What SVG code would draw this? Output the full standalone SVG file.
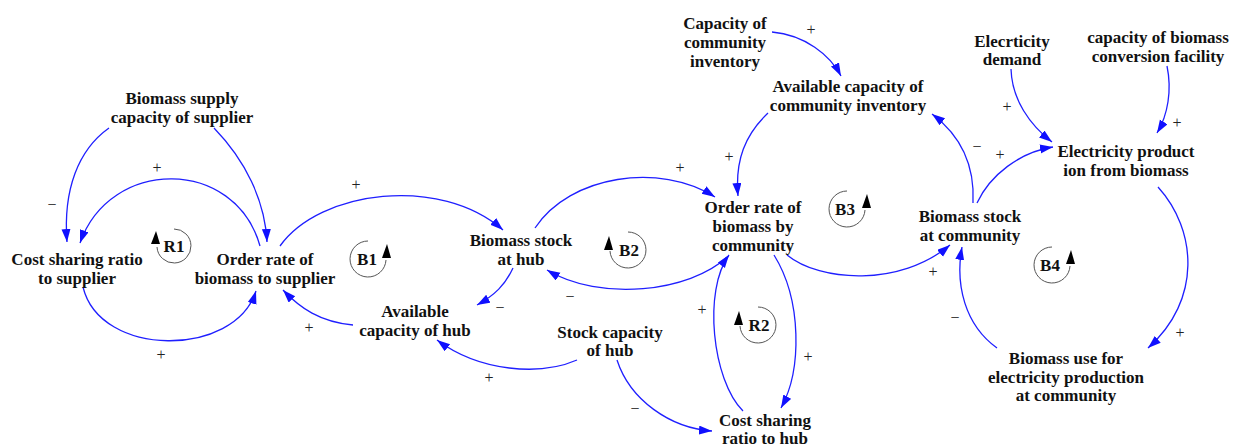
<svg xmlns="http://www.w3.org/2000/svg" width="1240" height="448" viewBox="0 0 1240 448">
<style>
.n{font-family:"Liberation Serif","Times New Roman",serif;font-weight:bold;font-size:17px;fill:#111;text-anchor:middle}
.s{font-family:"Liberation Serif","Times New Roman",serif;font-size:16px;fill:#222;text-anchor:middle}
.e{fill:none;stroke:#1f1fff;stroke-width:1.3;marker-end:url(#ah)}
.lp{fill:none;stroke:#555;stroke-width:1}
.la{fill:#000}
</style>
<defs>
<marker id="ah" markerUnits="userSpaceOnUse" markerWidth="14" markerHeight="10" refX="13" refY="4.5" orient="auto">
<path d="M0,0 L13,4.5 L0,9 z" fill="#1010ff"/>
</marker>
</defs>
<rect width="1240" height="448" fill="#fff"/>
<g id="connectors">
<path class="e" d="M109,128 C78,150 63,190 67,242"/>
<path class="e" d="M214,128 C245,160 265,200 267,242"/>
<path class="e" d="M260,246 C235,157 110,157 80,243"/>
<path class="e" d="M83,287 C100,358 235,358 256,291"/>
<path class="e" d="M280,246 C320,190 440,175 503,230"/>
<path class="e" d="M353,325 C320,322 300,308 283,290"/>
<path class="e" d="M513,268 C505,285 495,295 477,305"/>
<path class="e" d="M535,228 C570,175 660,162 715,197"/>
<path class="e" d="M727,257 C690,292 600,302 547,270"/>
<path class="e" d="M577,360 C540,376 480,372 437,340"/>
<path class="e" d="M617,360 C630,400 670,428 712,431"/>
<path class="e" d="M743,411 C712,380 703,290 729,255"/>
<path class="e" d="M774,255 C802,300 802,370 781,408"/>
<path class="e" d="M787,255 C820,282 900,287 950,245"/>
<path class="e" d="M768,113 C745,135 735,160 738,196"/>
<path class="e" d="M772,32 C805,35 830,55 841,76"/>
<path class="e" d="M973,203 C975,165 960,135 932,114"/>
<path class="e" d="M977,203 C990,175 1020,152 1053,147"/>
<path class="e" d="M1011,69 C1012,100 1030,125 1052,142"/>
<path class="e" d="M1167,66 C1172,90 1168,115 1157,133"/>
<path class="e" d="M1158,187 C1197,230 1202,300 1148,348"/>
<path class="e" d="M997,348 C965,325 955,285 962,247"/>
</g>
<g id="signs">
<text class="s" x="52" y="210">−</text>
<text class="s" x="157" y="173">+</text>
<text class="s" x="161" y="360">+</text>
<text class="s" x="356" y="190">+</text>
<text class="s" x="309" y="333">+</text>
<text class="s" x="500" y="313">−</text>
<text class="s" x="680" y="173">+</text>
<text class="s" x="570" y="302">−</text>
<text class="s" x="489" y="383">+</text>
<text class="s" x="635" y="414">−</text>
<text class="s" x="702" y="315">+</text>
<text class="s" x="808" y="362">+</text>
<text class="s" x="933" y="277">+</text>
<text class="s" x="729" y="162">+</text>
<text class="s" x="811" y="35">+</text>
<text class="s" x="977" y="152">−</text>
<text class="s" x="1000" y="160">+</text>
<text class="s" x="1007" y="112">+</text>
<text class="s" x="1177" y="128">+</text>
<text class="s" x="1180" y="338">+</text>
<text class="s" x="955" y="323">−</text>
</g>
<g id="loop-R1">
<path class="lp" d="M174,229 A17,17 0 1 1 157,247"/>
<polygon class="la" points="156,231 151,244 160,244"/>
<text class="n" x="174" y="252">R1</text>
</g>
<g id="loop-B1">
<path class="lp" d="M368,241 A18,18 0 1 0 386,260"/>
<polygon class="la" points="387,244 382,258 391,258"/>
<text class="n" x="367" y="265">B1</text>
</g>
<g id="loop-B2">
<path class="lp" d="M628,232 A18,18 0 1 1 610,251"/>
<polygon class="la" points="609,236 604,250 613,250"/>
<text class="n" x="629" y="256">B2</text>
</g>
<g id="loop-R2">
<path class="lp" d="M758,307 A18,18 0 1 1 740,326"/>
<polygon class="la" points="739,311 734,325 743,325"/>
<text class="n" x="759" y="331">R2</text>
</g>
<g id="loop-B3">
<path class="lp" d="M847,191 A18,18 0 1 0 865,210"/>
<polygon class="la" points="867,194 862,208 871,208"/>
<text class="n" x="845" y="215">B3</text>
</g>
<g id="loop-B4">
<path class="lp" d="M1052,247 A18,18 0 1 0 1070,266"/>
<polygon class="la" points="1071,250 1066,264 1075,264"/>
<text class="n" x="1050" y="271">B4</text>
</g>
<g id="node-biomass-supply-capacity">
<text class="n" x="182" y="104"><tspan x="182">Biomass supply</tspan><tspan x="182" dy="19">capacity of supplier</tspan></text>
</g>
<g id="node-cost-sharing-supplier">
<text class="n" x="77" y="265"><tspan x="77">Cost sharing ratio</tspan><tspan x="77" dy="19">to supplier</tspan></text>
</g>
<g id="node-order-rate-supplier">
<text class="n" x="265" y="265"><tspan x="265">Order rate of</tspan><tspan x="265" dy="19">biomass to supplier</tspan></text>
</g>
<g id="node-biomass-stock-hub">
<text class="n" x="521" y="246"><tspan x="521">Biomass stock</tspan><tspan x="521" dy="19">at hub</tspan></text>
</g>
<g id="node-available-capacity-hub">
<text class="n" x="415" y="317"><tspan x="415">Available</tspan><tspan x="415" dy="19">capacity of hub</tspan></text>
</g>
<g id="node-stock-capacity-hub">
<text class="n" x="610" y="338"><tspan x="610">Stock capacity</tspan><tspan x="610" dy="18">of hub</tspan></text>
</g>
<g id="node-order-rate-community">
<text class="n" x="753" y="213"><tspan x="753">Order rate of</tspan><tspan x="753" dy="19">biomass by</tspan><tspan x="753" dy="19">community</tspan></text>
</g>
<g id="node-cost-sharing-hub">
<text class="n" x="765" y="426"><tspan x="765">Cost sharing</tspan><tspan x="765" dy="18">ratio to hub</tspan></text>
</g>
<g id="node-capacity-community-inventory">
<text class="n" x="725" y="29"><tspan x="725">Capacity of</tspan><tspan x="725" dy="19">community</tspan><tspan x="725" dy="19">inventory</tspan></text>
</g>
<g id="node-available-capacity-community-inventory">
<text class="n" x="848" y="92"><tspan x="848">Available capacity of</tspan><tspan x="848" dy="19">community inventory</tspan></text>
</g>
<g id="node-biomass-stock-community">
<text class="n" x="970" y="222"><tspan x="970">Biomass stock</tspan><tspan x="970" dy="19">at community</tspan></text>
</g>
<g id="node-electricity-demand">
<text class="n" x="1012" y="47"><tspan x="1012">Elecrticity</tspan><tspan x="1012" dy="18">demand</tspan></text>
</g>
<g id="node-capacity-conversion">
<text class="n" x="1158" y="43"><tspan x="1158">capacity of biomass</tspan><tspan x="1158" dy="19">conversion facility</tspan></text>
</g>
<g id="node-electricity-production">
<text class="n" x="1126" y="157"><tspan x="1126">Electricity product</tspan><tspan x="1126" dy="19">ion from biomass</tspan></text>
</g>
<g id="node-biomass-use">
<text class="n" x="1066" y="364"><tspan x="1066">Biomass use for</tspan><tspan x="1066" dy="19">electricity production</tspan><tspan x="1066" dy="18">at community</tspan></text>
</g>
</svg>
